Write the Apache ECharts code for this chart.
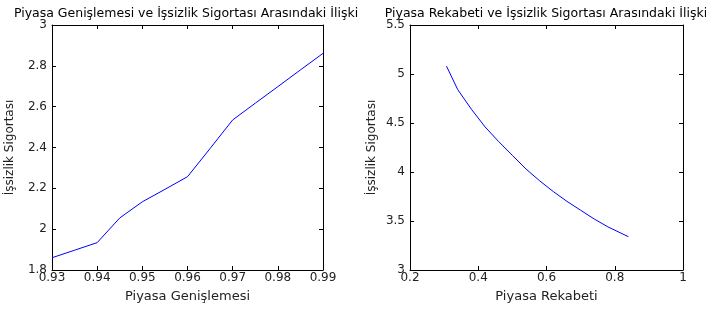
<!DOCTYPE html>
<html>
<head>
<meta charset="utf-8">
<script src="https://cdn.jsdelivr.net/npm/echarts@6/dist/echarts.min.js"></script>
<style>
html,body{margin:0;padding:0;background:#fff;}
#c{width:706px;height:310px;}
</style>
</head>
<body>
<div id="c"></div>
<script>
// Left panel: Piyasa Genişlemesi vs İşsizlik Sigortası
const leftX = [0.93, 0.935, 0.94, 0.945, 0.95, 0.955, 0.96, 0.965, 0.97, 0.975, 0.98, 0.985, 0.99];
const leftY = [1.86, 1.897, 1.934, 2.055, 2.134, 2.195, 2.257, 2.395, 2.535, 2.617, 2.698, 2.78, 2.861];
// Right panel: Piyasa Rekabeti vs İşsizlik Sigortası
const rightX = [0.307, 0.34, 0.38, 0.42, 0.46, 0.50, 0.54, 0.58, 0.62, 0.66, 0.70, 0.74, 0.78, 0.84];
const rightY = [5.08, 4.84, 4.64, 4.46, 4.31, 4.17, 4.03, 3.91, 3.80, 3.70, 3.61, 3.52, 3.44, 3.34];

const titles = ['Piyasa Genişlemesi ve İşsizlik Sigortası Arasındaki İlişki',
                'Piyasa Rekabeti ve İşsizlik Sigortası Arasındaki İlişki'];
const xNames = ['Piyasa Genişlemesi', 'Piyasa Rekabeti'];
const yName = 'İşsizlik Sigortası';
const xRanges = [[0.93, 0.99, 0.01], [0.2, 1, 0.2]];
const yRanges = [[1.8, 3, 0.2], [3, 5.5, 0.5]];

const FONT = 'DejaVu Sans, sans-serif';
const txt = '#222';
const fmt = v => String(parseFloat(v.toFixed(2)));

function mkX(gi, pos, show) {
  const r = xRanges[gi];
  return {
    type: 'value', gridIndex: gi, position: pos,
    min: r[0], max: r[1], interval: r[2],
    name: show ? xNames[gi] : '', nameLocation: 'middle', nameGap: 20,
    nameTextStyle: {color: txt, fontSize: 13, fontFamily: FONT},
    axisLine: {show: true, onZero: false, lineStyle: {color: '#000', width: 1}},
    axisTick: {show: true, inside: true, length: 4, lineStyle: {color: '#000'}},
    axisLabel: {show: show, color: txt, fontSize: 12, fontFamily: FONT, margin: 2, formatter: fmt,
                showMinLabel: true, showMaxLabel: true},
    splitLine: {show: false}
  };
}
function mkY(gi, pos, show, gap) {
  const r = yRanges[gi];
  return {
    type: 'value', gridIndex: gi, position: pos,
    min: r[0], max: r[1], interval: r[2],
    name: show ? yName : '', nameLocation: 'middle', nameGap: gap,
    nameTextStyle: {color: txt, fontSize: 12, fontFamily: FONT},
    axisLine: {show: true, onZero: false, lineStyle: {color: '#000', width: 1}},
    axisTick: {show: true, inside: true, length: 4, lineStyle: {color: '#000'}},
    axisLabel: {show: show, color: txt, fontSize: 12, fontFamily: FONT, margin: 5, formatter: fmt,
                showMinLabel: true, showMaxLabel: true},
    splitLine: {show: false}
  };
}

const chart = echarts.init(document.getElementById('c'), null, {renderer: 'canvas'});
chart.setOption({
  animation: false,
  backgroundColor: '#fff',
  title: [
    {text: titles[0], left: 181, top: 2, textAlign: 'center',
     textStyle: {color: '#000', fontSize: 12.5, fontWeight: 'normal', fontFamily: FONT}},
    {text: titles[1], left: 541, top: 2, textAlign: 'center',
     textStyle: {color: '#000', fontSize: 12.5, fontWeight: 'normal', fontFamily: FONT}}
  ],
  grid: [
    {left: 52, top: 25, width: 271, height: 245, show: false},
    {left: 410, top: 25, width: 273, height: 245, show: false}
  ],
  xAxis: [mkX(0, 'bottom', true), mkX(0, 'top', false), mkX(1, 'bottom', true), mkX(1, 'top', false)],
  yAxis: [mkY(0, 'left', true, 36), mkY(0, 'right', false, 0), mkY(1, 'left', true, 32), mkY(1, 'right', false, 0)],
  series: [
    {type: 'line', xAxisIndex: 0, yAxisIndex: 0, data: leftX.map((x, i) => [x, leftY[i]]),
     showSymbol: false, symbol: 'none', lineStyle: {color: '#0000ff', width: 1}},
    {type: 'line', xAxisIndex: 2, yAxisIndex: 2, data: rightX.map((x, i) => [x, rightY[i]]),
     showSymbol: false, symbol: 'none', lineStyle: {color: '#0000ff', width: 1}}
  ]
});
</script>
</body>
</html>
